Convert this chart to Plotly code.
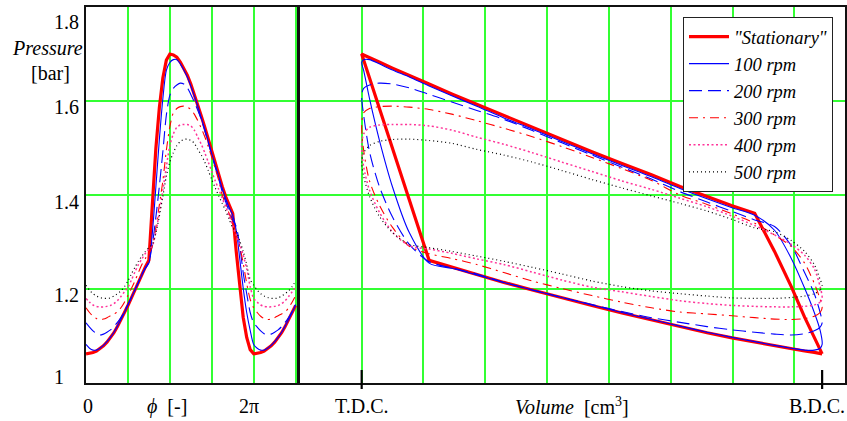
import plotly.graph_objects as go

# ---------------- data ----------------
# crank angle samples (degrees) over one cycle
PHI_DEG = [0, 7.5, 15, 22.5, 30, 37.5, 45, 52.5, 60, 67.5, 75, 82.5, 90,
           97.5, 105, 112.5, 120, 127.5, 135, 142.5, 150, 157.5, 165, 172.5, 180,
           187.5, 195, 202.5, 210, 217.5, 225, 232.5, 240, 247.5, 255, 262.5, 270,
           277.5, 285, 292.5, 300, 307.5, 315, 322.5, 330, 337.5, 345, 352.5, 360]

# swept volume at each crank angle (grid units, T.D.C. = 0, B.D.C. = 7.45)
VOLUME = [7.450, 7.418, 7.323, 7.166, 6.951, 6.680, 6.359, 5.993, 5.588, 5.150,
          4.689, 4.211, 3.725, 3.239, 2.761, 2.300, 1.863, 1.458, 1.091, 0.770,
          0.499, 0.284, 0.127, 0.032, 0.000, 0.032, 0.127, 0.284, 0.499, 0.770,
          1.091, 1.458, 1.863, 2.300, 2.761, 3.239, 3.725, 4.211, 4.689, 5.150,
          5.588, 5.993, 6.359, 6.680, 6.951, 7.166, 7.323, 7.418, 7.450]

P_STAT = [1.062, 1.063, 1.065, 1.068, 1.073, 1.079, 1.087, 1.096, 1.107, 1.120,
          1.134, 1.149, 1.165, 1.181, 1.198, 1.214, 1.231, 1.247, 1.261,
          1.390, 1.499, 1.586, 1.649, 1.687, 1.700,
          1.698, 1.693, 1.683, 1.670, 1.655, 1.636, 1.615, 1.593, 1.568, 1.544,
          1.518, 1.492, 1.467, 1.443, 1.418, 1.396, 1.377, 1.361,
          1.280, 1.205, 1.140, 1.097, 1.071, 1.062]

P_100 = [1.082, 1.074, 1.070, 1.070, 1.074, 1.080, 1.088, 1.097, 1.108, 1.121,
         1.135, 1.150, 1.166, 1.182, 1.198, 1.214, 1.230, 1.244, 1.255,
         1.320, 1.417, 1.518, 1.605, 1.665, 1.682,
         1.688, 1.688, 1.679, 1.666, 1.651, 1.632, 1.611, 1.589, 1.564, 1.540,
         1.514, 1.488, 1.463, 1.439, 1.414, 1.392, 1.373, 1.357,
         1.325, 1.265, 1.202, 1.150, 1.112, 1.082]

P_200 = [1.128, 1.119, 1.111, 1.105, 1.102, 1.104, 1.108, 1.113, 1.120, 1.129,
         1.139, 1.152, 1.167, 1.182, 1.198, 1.214, 1.232, 1.245, 1.258,
         1.295, 1.353, 1.419, 1.492, 1.570, 1.612,
         1.627, 1.634, 1.638, 1.636, 1.628, 1.614, 1.598, 1.580, 1.561, 1.537,
         1.511, 1.485, 1.459, 1.434, 1.407, 1.385, 1.365, 1.347,
         1.333, 1.292, 1.235, 1.190, 1.150, 1.128]

P_300 = [1.160, 1.150, 1.142, 1.137, 1.135, 1.136, 1.139, 1.143, 1.147, 1.151,
         1.160, 1.172, 1.186, 1.201, 1.217, 1.235, 1.252, 1.265, 1.275,
         1.291, 1.331, 1.379, 1.430, 1.495, 1.545,
         1.575, 1.584, 1.588, 1.589, 1.587, 1.582, 1.572, 1.558, 1.542, 1.524,
         1.503, 1.480, 1.456, 1.431, 1.400, 1.380, 1.360, 1.340,
         1.315, 1.290, 1.255, 1.212, 1.178, 1.160]

P_400 = [1.180, 1.172, 1.166, 1.163, 1.162, 1.162, 1.163, 1.165, 1.169, 1.175,
         1.184, 1.194, 1.204, 1.219, 1.236, 1.252, 1.264, 1.276, 1.285,
         1.292, 1.321, 1.364, 1.410, 1.460, 1.505,
         1.530, 1.544, 1.549, 1.550, 1.550, 1.547, 1.538, 1.523, 1.508, 1.490,
         1.470, 1.450, 1.430, 1.412, 1.393, 1.375, 1.355, 1.335,
         1.315, 1.295, 1.272, 1.243, 1.205, 1.180]

P_500 = [1.208, 1.198, 1.190, 1.185, 1.182, 1.180, 1.180, 1.181, 1.185, 1.190,
         1.196, 1.205, 1.217, 1.232, 1.246, 1.259, 1.270, 1.280, 1.288,
         1.295, 1.320, 1.355, 1.397, 1.440, 1.470,
         1.490, 1.505, 1.514, 1.518, 1.519, 1.516, 1.510, 1.497, 1.485, 1.470,
         1.452, 1.433, 1.415, 1.398, 1.382, 1.366, 1.348, 1.330,
         1.322, 1.303, 1.280, 1.252, 1.220, 1.208]

SERIES_NAMES = ['"Stationary"', '100 rpm', '200 rpm', '300 rpm', '400 rpm', '500 rpm']
SERIES_P = [P_STAT, P_100, P_200, P_300, P_400, P_500]

Y_TICK_VALS = [1.8, 1.6, 1.4, 1.2, 1.0]
Y_TICK_TEXT = ['1.8', '1.6', '1.4', '1.2', '1']

# ---------------- styling ----------------
STYLES = [
    dict(color='#ff0000', width=3.2, dash='solid', shape='linear'),
    dict(color='#0000ff', width=1.1, dash='solid', shape='spline'),
    dict(color='#0000ff', width=1.1, dash='13px,6px', shape='spline'),
    dict(color='#ff0000', width=1.1, dash='9px,5px,2px,5px', shape='spline'),
    dict(color='#ff3399', width=1.5, dash='2px,2.5px', shape='spline'),
    dict(color='#000000', width=1.2, dash='1px,3px', shape='spline'),
]
Y_TICK_SHIFT = [-14.5, -5.5, -6.5, -6, 6]

GRID = '#33ff33'
FONT = 'Liberation Serif, Times New Roman, serif'
W, H = 847, 421
TOP, BOT = 7, 383

# one extra quarter turn on the left panel (pressure is periodic in the crank angle)
phi_ext = PHI_DEG + [a + 360 for a in PHI_DEG[1:13]]

fig = go.Figure()
for name, p, st in zip(SERIES_NAMES, SERIES_P, STYLES):
    line = dict(color=st['color'], width=st['width'], dash=st['dash'], shape=st['shape'])
    if st['shape'] == 'spline':
        line['smoothing'] = 0.8
    fig.add_trace(go.Scatter(x=phi_ext, y=p + p[1:13], mode='lines', line=line,
                             xaxis='x', yaxis='y', showlegend=False, hoverinfo='skip'))
    fig.add_trace(go.Scatter(x=VOLUME, y=p, mode='lines', line=line, name=name,
                             xaxis='x2', yaxis='y2', hoverinfo='skip'))

axis_common = dict(showgrid=True, gridcolor=GRID, gridwidth=1.5, zeroline=False,
                   showticklabels=False, ticks='', showline=True, linecolor='#111',
                   linewidth=1.5, mirror=True)

fig.update_layout(
    width=W, height=H,
    margin=dict(l=0, r=0, t=TOP, b=H - BOT),
    paper_bgcolor='white', plot_bgcolor='white',
    font=dict(family=FONT, size=20, color='black'),
    xaxis=dict(domain=[86 / W, 297 / W], range=[0, 453], tick0=0, dtick=90,
               anchor='y', **axis_common),
    yaxis=dict(domain=[0, 1], range=[1.0, 1.8], tick0=1.0, dtick=0.2,
               anchor='x', **axis_common),
    xaxis2=dict(domain=[300 / W, 845 / W], range=[-0.998, 7.82], tick0=0, dtick=1,
                anchor='y2', **axis_common),
    yaxis2=dict(domain=[0, 1], range=[1.0, 1.8], tick0=1.0, dtick=0.2,
                anchor='x2', matches='y', **axis_common),
    legend=dict(x=683 / W, y=(BOT - 17) / (BOT - TOP), xanchor='left', yanchor='top',
                bgcolor='white', bordercolor='#222', borderwidth=1,
                font=dict(family=FONT, size=18.5, color='black', style='italic'),
                itemwidth=40, tracegroupgap=0),
    showlegend=True,
)

def py(px):
    return (BOT - px) / (BOT - TOP)

ann = []
for v, t, s in zip(Y_TICK_VALS, Y_TICK_TEXT, Y_TICK_SHIFT):
    ann.append(dict(xref='paper', yref='y', x=52 / W, y=v, text=t, xanchor='left',
                    yanchor='middle', yshift=s, showarrow=False))
ann += [
    dict(xref='paper', yref='paper', x=47 / W, y=py(48), text='<i>Pressure</i>',
         showarrow=False, xanchor='center', yanchor='middle'),
    dict(xref='paper', yref='paper', x=50 / W, y=py(73), text='[bar]',
         showarrow=False, xanchor='center', yanchor='middle'),
    dict(xref='x', yref='paper', x=PHI_DEG[0], y=py(406), text='0', xshift=2,
         showarrow=False, xanchor='center', yanchor='middle'),
    dict(xref='x', yref='paper', x=PHI_DEG[24], y=py(406), text='<i>ϕ</i>&nbsp; [-]', xshift=-3,
         showarrow=False, xanchor='center', yanchor='middle'),
    dict(xref='x', yref='paper', x=PHI_DEG[48], y=py(406), text='2π', xshift=-5,
         showarrow=False, xanchor='center', yanchor='middle'),
    dict(xref='x2', yref='paper', x=VOLUME[24], y=py(406), text='T.D.C.', xshift=0,
         showarrow=False, xanchor='center', yanchor='middle'),
    dict(xref='x2', yref='paper', x=VOLUME[0], y=py(406), text='B.D.C.', xshift=-5,
         showarrow=False, xanchor='center', yanchor='middle'),
    dict(xref='paper', yref='paper', x=572 / W, y=py(406),
         text='<i>Volume</i>&nbsp; [cm<sup>3</sup>]',
         showarrow=False, xanchor='center', yanchor='middle'),
]
fig.update_layout(annotations=ann)

shapes = []
for v in (VOLUME[24], VOLUME[0]):
    shapes.append(dict(type='line', xref='x2', yref='paper', x0=v, x1=v,
                       y0=py(389), y1=py(370), line=dict(color='black', width=2.2)))
fig.update_layout(shapes=shapes)

fig.write_html('out.html',
               config={'displayModeBar': False},
               post_script="document.body.style.margin='0px';document.body.style.padding='0px';")
